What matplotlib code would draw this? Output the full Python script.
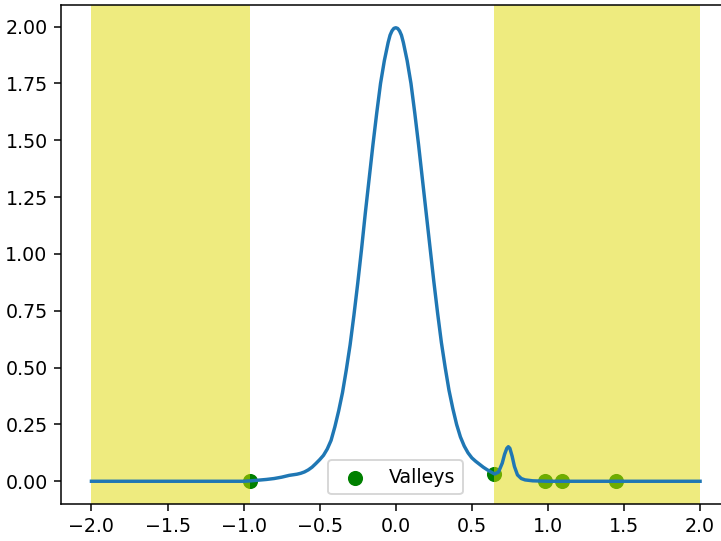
import matplotlib
matplotlib.use("Agg")
import matplotlib.pyplot as plt

# curve samples
curve_x = [-2.0, -1.5, -1.2, -1.0, -0.95, -0.9, -0.85, -0.8, -0.75, -0.7, -0.65, -0.625,
           -0.6, -0.575, -0.55, -0.525, -0.5, -0.475, -0.45, -0.425, -0.4, -0.375,
           -0.35, -0.325, -0.3, -0.275, -0.25, -0.225, -0.2, -0.175, -0.15, -0.125,
           -0.1, -0.075, -0.05, -0.0375, -0.025, -0.0125, 0.0, 0.0125, 0.025, 0.0375,
           0.05, 0.075, 0.1, 0.125, 0.15, 0.175, 0.2,
           0.225, 0.25, 0.275, 0.3, 0.325, 0.35, 0.375, 0.4, 0.425, 0.45, 0.475,
           0.5, 0.525, 0.55, 0.575, 0.6, 0.625, 0.65, 0.675, 0.7, 0.715, 0.73,
           0.74, 0.75, 0.765, 0.78, 0.8, 0.825, 0.85, 0.9, 0.95, 1.0, 1.5, 2.0]
curve_y = [0.0, 0.0, 0.0, 0.0, 0.002, 0.005, 0.008, 0.012, 0.018, 0.026, 0.031, 0.035,
           0.041, 0.050, 0.062, 0.078, 0.095, 0.114, 0.142, 0.180, 0.240, 0.310,
           0.390, 0.490, 0.600, 0.730, 0.870, 1.020, 1.180, 1.330, 1.480, 1.620,
           1.750, 1.850, 1.930, 1.962, 1.981, 1.992, 1.995, 1.992, 1.981, 1.962,
           1.930, 1.850, 1.750, 1.620, 1.480, 1.330, 1.180,
           1.030, 0.880, 0.740, 0.610, 0.500, 0.400, 0.320, 0.250, 0.195, 0.155, 0.125,
           0.103, 0.088, 0.075, 0.062, 0.051, 0.041, 0.032, 0.040, 0.080, 0.118, 0.145,
           0.152, 0.145, 0.110, 0.065, 0.028, 0.012, 0.006, 0.002, 0.001, 0.0, 0.0, 0.0]

valley_x = [-0.955, 0.647, 0.982, 1.092, 1.448]
valley_y = [0.003, 0.032, 0.001, 0.0, 0.0]

span_starts = [-2.0, 0.647]
span_ends = [-0.955, 2.0]

DPI = 137
fig = plt.figure(figsize=(722 / DPI, 541 / DPI), dpi=DPI)
ax = fig.add_axes([61 / 722, 37 / 541, (730.5 - 61) / 722, (504 - 5) / 541])

ax.scatter(valley_x, valley_y, color="green", s=48, label="Valleys")
for a, b in zip(span_starts, span_ends):
    ax.axvspan(a, b, color=(0.87, 0.85, 0.0), alpha=0.5, lw=0)
ax.plot(curve_x, curve_y, color="#1f77b4", lw=1.8)

ax.set_xlim(-2.2, 2.2)
ax.set_ylim(-0.1, 2.095)
ax.set_yticks([0, 0.25, 0.5, 0.75, 1.0, 1.25, 1.5, 1.75, 2.0])
ax.set_yticklabels(["0.00", "0.25", "0.50", "0.75", "1.00", "1.25", "1.50", "1.75", "2.00"])
ax.legend(loc="lower center")

fig.savefig("out.png", dpi=DPI)
